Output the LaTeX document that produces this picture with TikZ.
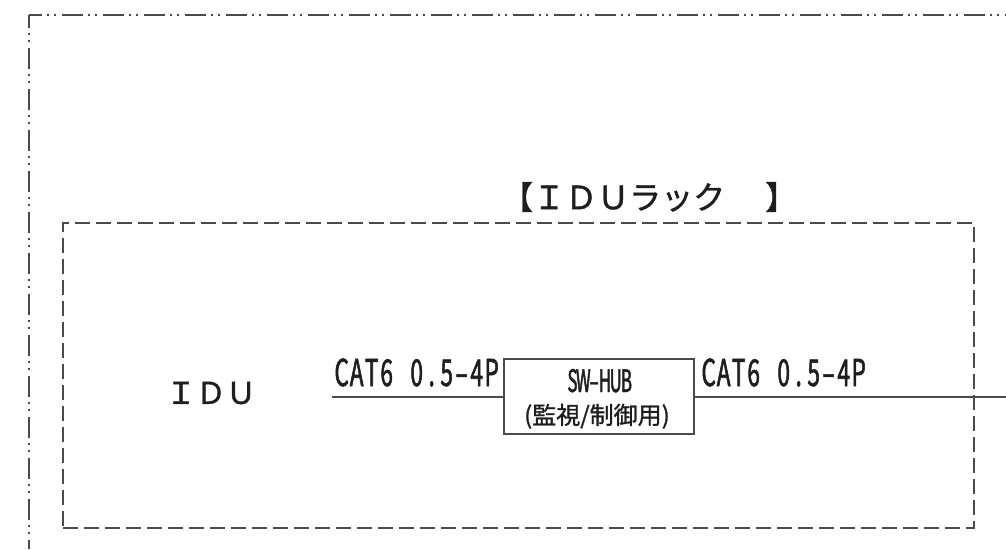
\documentclass[tikz,border=0pt]{standalone}
\usepackage{fontspec}
\newfontfamily\jp[FakeBold=1.2]{Noto Sans CJK JP}
\newfontfamily\jpn[FakeStretch=0.61,FakeBold=1.5]{Noto Sans CJK JP}
\newfontfamily\jpm[FakeStretch=0.54,FakeBold=1.5]{Noto Sans CJK JP}
\newcommand\mcell[2][15pt]{\makebox[#1]{#2}}
\definecolor{ink}{HTML}{1E1E1E}
\definecolor{ln}{HTML}{4A4A4A}
\begin{document}
\begin{tikzpicture}[x=1pt,y=-1pt,
  outerline/.style={draw=ln,line width=1.4pt,dash pattern=on 21pt off 5pt on 2pt off 5pt on 2pt off 6pt,dash phase=8pt},
  rackbox/.style={draw=ln,line width=1.4pt,dash pattern=on 15pt off 6pt,inner sep=0pt},
  wire/.style={draw=ln,line width=1.3pt},
  hubbox/.style={draw=ln,line width=1.3pt,minimum width=190pt,minimum height=75pt,inner sep=0pt},
  cable/.style={text=ink,inner sep=0pt,font=\jpn\fontsize{37pt}{37pt}\selectfont},
  title/.style={text=ink,inner sep=0pt,font=\jp\fontsize{32pt}{32pt}\selectfont}
]
\useasboundingbox (0,0) rectangle (1006,549);
\coordinate (corner) at (29,15);
\coordinate (topend) at (1006,15);
\coordinate (leftend) at (29,549);
\draw[outerline] (corner) -- (topend);
\draw[outerline] (corner) -- (leftend);
\node[rackbox,minimum width=911pt,minimum height=305pt] (rack) at (518.3,375.3) {};
\node[title,anchor=west] (ttl) at (501,197) {【ＩＤＵラック\hspace{40pt}】};
\node[title,font=\jp\fontsize{30pt}{30pt}\selectfont] (idu) at (211,393) {ＩＤＵ};
\node[hubbox] (hub) at (599,396.5) {};
\node[text=ink,inner sep=0pt,anchor=base,font=\jpm\fontsize{31pt}{31pt}\selectfont] (hubname) at (599.5,392) {\mcell[10.8pt]{S}\mcell[10.8pt]{W}\mcell[10.8pt]{–}\mcell[10.8pt]{H}\mcell[10.8pt]{U}\mcell[10.8pt]{B}};
\node[text=ink,inner sep=0pt,anchor=base,font=\jp\fontsize{24pt}{24pt}\selectfont] (hubuse) at (597,424) {(監視/制御用)};
\coordinate (lstart) at (332,397);
\coordinate (rend) at (1006,397);
\draw[wire] (lstart) -- (lstart -| hub.west);
\draw[wire] (hub.east |- rend) -- (rend);
\node[cable,anchor=base west] (lcab) at (334,386) {\mcell{C}\mcell{A}\mcell{T}\mcell{6}\mcell{\ }\mcell{0}\mcell{.}\mcell{5}\mcell{–}\mcell{4}\mcell{P}};
\node[cable,anchor=base west] (rcab) at (701,386) {\mcell{C}\mcell{A}\mcell{T}\mcell{6}\mcell{\ }\mcell{0}\mcell{.}\mcell{5}\mcell{–}\mcell{4}\mcell{P}};
\end{tikzpicture}
\end{document}
